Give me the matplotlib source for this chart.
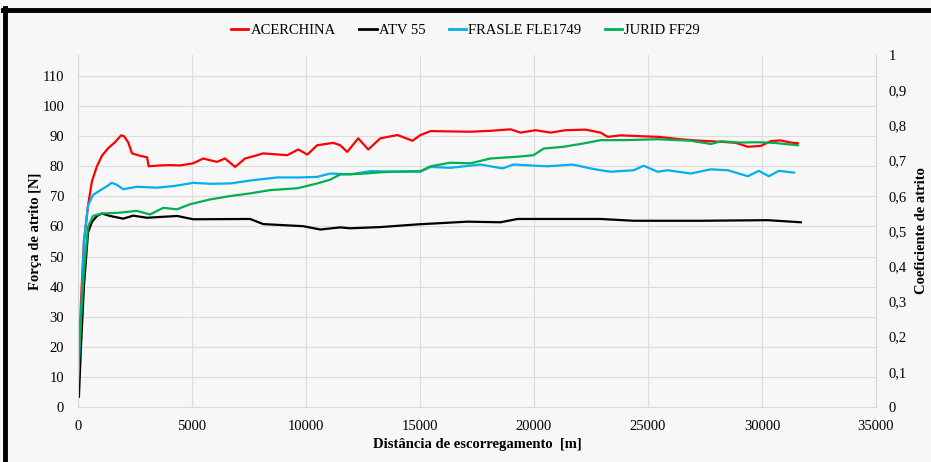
import matplotlib
matplotlib.use("Agg")
import matplotlib.pyplot as plt
from matplotlib.lines import Line2D
from matplotlib.ticker import FuncFormatter, MultipleLocator

plt.rcParams['font.family'] = ['Liberation Serif', 'DejaVu Serif']

# ---- data (distance in m, friction force in N) ----
acer_x = [0, 130, 260, 440, 610, 830, 1050, 1320, 1620, 1890, 2020, 2200, 2370, 2720, 3030, 3100,
          3600, 4040, 4480, 5050, 5490, 5800, 6100, 6450, 6890, 7330, 7770, 8120, 8650, 9180, 9660,
          10060, 10490, 11200, 11500, 11810, 12290, 12730, 13260, 14010, 14670, 15020, 15460, 16330,
          17210, 18090, 18970, 19410, 20070, 20730, 21380, 22260, 22920, 23230, 23800, 24680, 25420,
          26570, 27310, 28320, 28850, 29380, 29950, 30390, 30820, 31260, 31570]
acer_y = [6.5, 35, 55, 67, 75, 80, 83.5, 86, 88, 90.3, 90, 88, 84.3, 83.5, 83, 80,
          80.3, 80.4, 80.3, 81, 82.6, 82, 81.5, 82.6, 79.8, 82.6, 83.5, 84.3, 84, 83.7, 85.6,
          83.9, 87, 87.8, 87, 84.8, 89.3, 85.6, 89.3, 90.4, 88.5, 90.4, 91.7, 91.6,
          91.5, 91.8, 92.3, 91.2, 92, 91.2, 92, 92.2, 91.2, 89.8, 90.3, 90, 89.8,
          88.9, 88.5, 88.1, 87.8, 86.5, 86.8, 88.4, 88.6, 87.9, 87.7]

atv_x = [40, 130, 260, 440, 610, 830, 1040, 1410, 1980, 2420, 3030, 4350, 5050, 7550, 8120, 9880,
         10630, 11500, 11940, 13260, 14890, 17080, 18530, 19280, 22920, 24370, 27310, 30250, 31700]
atv_y = [3.4, 20, 40, 58, 61.5, 63.5, 64.3, 63.5, 62.6, 63.6, 62.9, 63.5, 62.4, 62.5, 60.8, 60.1,
         59, 59.7, 59.4, 59.8, 60.7, 61.6, 61.4, 62.5, 62.5, 61.9, 61.9, 62.1, 61.4]

fras_x = [0, 130, 260, 440, 660, 970, 1230, 1480, 1670, 1980, 2590, 3470, 4260, 5050, 5800, 6670,
          7680, 8740, 9750, 10490, 11070, 11940, 12820, 14140, 15020, 15460, 16330, 17650, 18620,
          19100, 20590, 21690, 22480, 22920, 23360, 24370, 24810, 25420, 25860, 26870, 27750, 28500,
          29380, 29860, 30300, 30740, 31400]
fras_y = [8, 30, 55, 67, 70.5, 72, 73.2, 74.5, 74, 72.4, 73.2, 72.9, 73.5, 74.5, 74.2, 74.3,
          75.4, 76.3, 76.3, 76.5, 77.6, 77.3, 78.4, 78.2, 78.2, 79.8, 79.5, 80.6, 79.3,
          80.6, 80, 80.6, 79.3, 78.7, 78.2, 78.7, 80.2, 78.2, 78.7, 77.6, 79, 78.7,
          76.7, 78.5, 76.7, 78.5, 77.9]

jur_x = [0, 130, 260, 440, 660, 1040, 1840, 2570, 3160, 3740, 4340, 4920, 5800, 6670, 7550, 8430,
         9620, 10490, 11070, 11500, 12380, 13260, 14140, 15020, 15460, 16330, 17210, 18090, 19280,
         19980, 20420, 21300, 22180, 22920, 23930, 25420, 26870, 27620, 27750, 28190, 29060, 29820,
         30520, 31570]
jur_y = [10.5, 30, 45, 60, 63.5, 64.3, 64.6, 65.2, 64, 66.2, 65.7, 67.4, 69, 70.1, 71, 72.1,
         72.7, 74.3, 75.6, 77.3, 77.5, 78, 78.3, 78.4, 80, 81.2, 81, 82.6, 83.2,
         83.7, 85.9, 86.5, 87.6, 88.7, 88.7, 89, 88.5, 87.6, 87.4, 88.3, 87.9, 88,
         87.8, 87]

series_names = ['ACERCHINA', 'ATV 55', 'FRASLE FLE1749', 'JURID FF29']
series_colors = ['#ff0000', '#000000', '#00b0f0', '#00b050']

left_ticks = list(range(0, 111, 10))
right_ticks = [i / 10 for i in range(0, 11)]
x_ticks = list(range(0, 35001, 5000))

# ---- figure ----
fig = plt.figure(figsize=(9.31, 4.62), dpi=100, facecolor='#f7f7f7')
ax = fig.add_axes([78 / 931, 55 / 462, 798 / 931, 352 / 462])
ax.set_facecolor('none')

data = [(acer_x, acer_y), (atv_x, atv_y), (fras_x, fras_y), (jur_x, jur_y)]
for (xs, ys), name, c in zip(data, series_names, series_colors):
    ax.plot(xs, ys, color=c, lw=1.6, label=name, solid_joinstyle='round')

ax.set_xlim(0, 35000)
ax.set_ylim(0, 117)
ax.set_xticks(x_ticks)
ax.set_yticks(left_ticks)
ax.grid(True, color='#dcdcdc', lw=0.8)
ax.set_axisbelow(True)
ax.tick_params(length=0, labelsize=10.5, pad=9)
ax.tick_params(axis='y', pad=10)
for s in ['top']:
    ax.spines[s].set_visible(False)
for s in ['left', 'bottom', 'right']:
    ax.spines[s].set_color('#d9d9d9')
    ax.spines[s].set_linewidth(0.8)

ax2 = ax.twinx()
ax2.set_ylim(0, 1)
ax2.set_yticks(right_ticks)
ax2.yaxis.set_major_formatter(FuncFormatter(lambda v, p: ('%g' % round(v, 1)).replace('.', ',')))
ax2.tick_params(length=0, labelsize=10.5, pad=9)
for s in ax2.spines.values():
    s.set_visible(False)

ax.set_ylabel('Força de atrito [N]', fontsize=10.5, fontweight='bold', labelpad=0)
ax2.set_ylabel('Coeficiente de atrito', fontsize=10.5, fontweight='bold', labelpad=6)
ax.set_xlabel('Distância de escorregamento  [m]', fontsize=10.5, fontweight='bold', labelpad=4)

handles = [Line2D([], [], color=c, lw=2) for c in series_colors]
fig.legend(handles, series_names, loc='center', bbox_to_anchor=(0.5, 1 - 30 / 462), ncol=4,
           frameon=False, fontsize=10.5, handlelength=1.2, handletextpad=0.15, columnspacing=1.6)

# outer frame (top and left dark borders)
fig.add_artist(Line2D([3 / 931, 1], [1 - 10 / 462, 1 - 10 / 462], transform=fig.transFigure,
                      color='black', lw=3.5))
fig.add_artist(Line2D([5 / 931, 5 / 931], [0, 1 - 8 / 462], transform=fig.transFigure,
                      color='black', lw=3.5))

fig.savefig('out.png', dpi=100, facecolor=fig.get_facecolor())
